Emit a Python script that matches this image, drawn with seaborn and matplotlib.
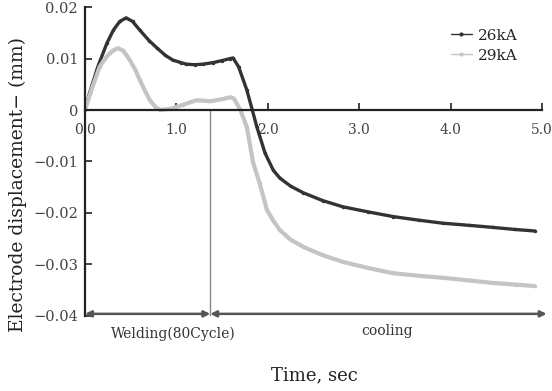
import numpy as np
import pandas as pd
import seaborn as sns
import matplotlib.pyplot as plt

# data
t_26 = [0, 0.05, 0.14, 0.24, 0.31, 0.38, 0.45, 0.52, 0.60, 0.70, 0.79, 0.88, 0.96, 1.05,
        1.11, 1.20, 1.29, 1.40, 1.50, 1.59, 1.62, 1.68, 1.77, 1.83, 1.88, 1.97, 2.06, 2.13,
        2.25, 2.39, 2.60, 2.82, 3.10, 3.37, 3.65, 3.92, 4.20, 4.46, 4.70, 4.92]
d_26 = [0, 0.0033, 0.0084, 0.013, 0.0155, 0.0172, 0.0179, 0.0172, 0.0155, 0.0135, 0.012,
        0.0106, 0.0097, 0.0092, 0.0089, 0.0088, 0.0089, 0.0092, 0.0096, 0.0100, 0.0101,
        0.0084, 0.0039, 0.0, -0.0033, -0.0084, -0.0117, -0.0132, -0.0148, -0.0161, -0.0176,
        -0.0188, -0.0198, -0.0207, -0.0214, -0.022, -0.0224, -0.0228, -0.0232, -0.0235]
t_29 = [0, 0.07, 0.16, 0.22, 0.27, 0.32, 0.36, 0.42, 0.49, 0.55, 0.60, 0.66, 0.71, 0.77,
        0.82, 0.93, 1.07, 1.22, 1.37, 1.50, 1.59, 1.63, 1.70, 1.77, 1.84, 1.91, 1.99, 2.06,
        2.13, 2.25, 2.39, 2.60, 2.82, 3.10, 3.37, 3.65, 3.92, 4.20, 4.46, 4.70, 4.92]
d_29 = [0, 0.0039, 0.0084, 0.0100, 0.011, 0.0117, 0.012, 0.0115, 0.0097, 0.0078, 0.0058,
        0.0036, 0.0019, 0.0006, 0.0, 0.0002, 0.001, 0.0019, 0.0017, 0.0021, 0.0025, 0.0022,
        0.0, -0.0033, -0.0103, -0.0142, -0.0194, -0.0215, -0.0233, -0.0252, -0.0266, -0.0282,
        -0.0295, -0.0307, -0.0317, -0.0322, -0.0326, -0.0331, -0.0336, -0.0339, -0.0342]
labels = ['26kA', '29kA']
colors = ['#333333', '#c4c4c4']
x_ticks = [0, 1, 2, 3, 4, 5]
x_ticklabels = ['0.0', '1.0', '2.0', '3.0', '4.0', '5.0']
y_ticks = [-0.04, -0.03, -0.02, -0.01, 0, 0.01, 0.02]
y_ticklabels = ['\u22120.04', '\u22120.03', '\u22120.02', '\u22120.01', '0', '0.01', '0.02']
weld_end = 1.37

df = pd.concat([
    pd.DataFrame({'time': t_26, 'disp': d_26, 'current': labels[0]}),
    pd.DataFrame({'time': t_29, 'disp': d_29, 'current': labels[1]}),
])

sns.set_theme(style='white')
plt.rcParams['font.family'] = ['DejaVu Serif']

fig = plt.figure(figsize=(5.52, 3.91), dpi=100)
ax = fig.add_axes([0.154, 0.192, 0.828, 0.79])

sns.lineplot(data=df, x='time', y='disp', hue='current', palette=colors,
             marker='o', markersize=2.5, markeredgewidth=0, linewidth=2.5,
             sort=False, ax=ax)
for line, lw in zip(ax.lines, [2.4, 3.0]):
    line.set_linewidth(lw)

ax.set_xlim(0, 5)
ax.set_ylim(-0.04, 0.02)

ax.spines['right'].set_visible(False)
ax.spines['top'].set_visible(False)
ax.spines['bottom'].set_position(('data', 0))
ax.spines['bottom'].set_linewidth(1.6)
ax.spines['bottom'].set_color('#222222')
ax.spines['left'].set_linewidth(1.6)
ax.spines['left'].set_color('#222222')

ax.set_xticks(x_ticks)
ax.set_xticklabels(x_ticklabels)
ax.set_yticks(y_ticks)
ax.set_yticklabels(y_ticklabels)
ax.tick_params(axis='x', direction='in', length=5, width=1.2, pad=9,
               labelsize=10, colors='#222222', bottom=True)
ax.tick_params(axis='y', direction='in', length=5, width=1.2, pad=5,
               labelsize=10.5, colors='#222222', left=True)
for lab in ax.get_xticklabels() + ax.get_yticklabels():
    lab.set_color('#444444')

# welding / cooling divider and arrows
ax.plot([weld_end, weld_end], [0, -0.04], color='#888888', lw=1.0)
arrow = dict(arrowstyle='<|-|>', color='#555555', lw=1.8, mutation_scale=9,
             shrinkA=0, shrinkB=0)
ax.annotate('', xy=(0, -0.0396), xytext=(weld_end, -0.0396),
            arrowprops=arrow, annotation_clip=False)
ax.annotate('', xy=(weld_end, -0.0396), xytext=(5.05, -0.0396),
            arrowprops=arrow, annotation_clip=False)
ax.text(0.97, -0.0434, 'Welding(80Cycle)', ha='center', va='center',
        fontsize=10, color='#333333', clip_on=False)
ax.text(3.3, -0.0430, 'cooling', ha='center', va='center',
        fontsize=10, color='#333333', clip_on=False)

ax.set_xlabel('')
ax.set_ylabel('')
fig.text(0.569, 1 - 375 / 391, 'Time, sec', ha='center', va='center',
         fontsize=13, color='#222222')
fig.text(0.033, 1 - 184 / 391, 'Electrode displacement\u2212 (mm)', ha='center',
         va='center', rotation=90, fontsize=13.5, color='#222222')

leg = ax.legend(loc='upper left', bbox_to_anchor=(0.77, 0.975), frameon=False,
                fontsize=11, handlelength=1.4, handletextpad=0.4, labelspacing=0.4)
for h in leg.get_lines():
    h.set_linewidth(1.0)
    h.set_markersize(3)

fig.savefig('out.png', dpi=100)
